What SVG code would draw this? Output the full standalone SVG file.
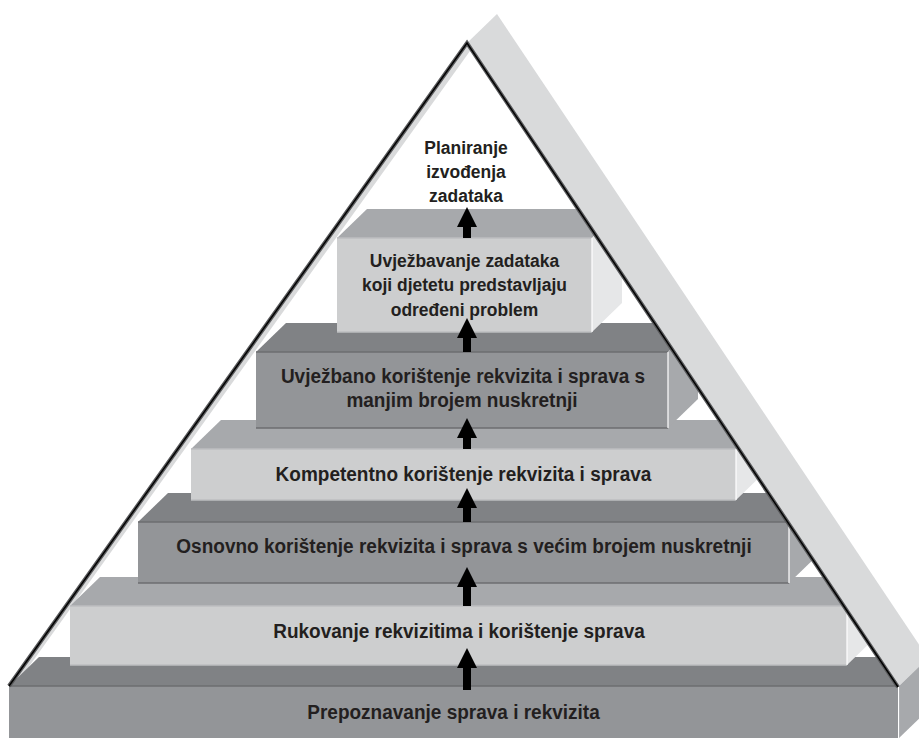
<svg xmlns="http://www.w3.org/2000/svg" width="919" height="738" viewBox="0 0 919 738">
<defs>
<style>
.txt{font-family:"Liberation Sans",Arial,sans-serif;font-weight:bold;fill:#231f20;text-anchor:middle}
.t19{font-size:21px}
.t17{font-size:19px}
.dtop{fill:#808285}
.dfront{fill:#939598}
.dside{fill:#a7a9ac}
.ltop{fill:#a7a9ac}
.lfront{fill:#cdcecf}
.lside{fill:#e6e7e8}
.dedge{stroke:#6d6e71;stroke-width:1.5}
.ledge{stroke:#bcbec0;stroke-width:1.5}
.redge{stroke:#ffffff;stroke-width:1.2}
.arrow{fill:#000000}
</style>
<clipPath id="tri">
<polygon points="467,43 898,687 898,739 9,739 9,686"/>
</clipPath>
</defs>
<rect width="919" height="738" fill="#ffffff"/>
<g id="frame-back">
<polygon points="467,43 497,14 928,658 898,687" fill="#d9dadb"/>
<polygon points="467,44 470,51 15,686 9,686" fill="#d9dadb"/>
<polygon points="898,687 928,658 928,710 898,739" fill="#a7a9ac"/>
<line x1="898.5" y1="687" x2="898.5" y2="739" stroke="#ffffff" stroke-width="1.2"/>
</g>
<g clip-path="url(#tri)">
<g id="level1">
<polygon class="dtop" points="9,686 898,686 928,657 39,657"/>
<rect class="dfront" x="9" y="686" width="889" height="53"/>
<line class="dedge" x1="9" y1="686" x2="898" y2="686"/>
<text class="txt t19" transform="translate(453.5,719) scale(0.905,1)">Prepoznavanje sprava i rekvizita</text>
</g>
<g id="level2">
<polygon class="ltop" points="70,606 847,606 877,577 100,577"/>
<polygon class="lside" points="847,606 877,577 877,636 847,665"/>
<rect class="lfront" x="70" y="606" width="777" height="59"/>
<line class="ledge" x1="70" y1="606" x2="847" y2="606"/>
<line class="ledge" x1="70" y1="665" x2="847" y2="665"/>
<line class="redge" x1="847" y1="606" x2="847" y2="665"/>
<text class="txt t19" transform="translate(459,638) scale(0.905,1)">Rukovanje rekvizitima i korištenje sprava</text>
</g>
<g id="level3">
<polygon class="dtop" points="138,522 789,522 819,493 168,493"/>
<polygon class="dside" points="789,522 819,493 819,554 789,583"/>
<rect class="dfront" x="138" y="522" width="651" height="61"/>
<line class="dedge" x1="138" y1="522" x2="789" y2="522"/>
<line class="dedge" x1="138" y1="583" x2="789" y2="583"/>
<line class="redge" x1="789" y1="522" x2="789" y2="583"/>
<text class="txt t19" transform="translate(464,553) scale(0.905,1)">Osnovno korištenje rekvizita i sprava s većim brojem nuskretnji</text>
</g>
<g id="level4">
<polygon class="ltop" points="191,449 736,449 766,420 221,420"/>
<polygon class="lside" points="736,449 766,420 766,471 736,500"/>
<rect class="lfront" x="191" y="449" width="545" height="51"/>
<line class="ledge" x1="191" y1="449" x2="736" y2="449"/>
<line class="ledge" x1="191" y1="500" x2="736" y2="500"/>
<line class="redge" x1="736" y1="449" x2="736" y2="500"/>
<text class="txt t19" transform="translate(463.5,481) scale(0.905,1)">Kompetentno korištenje rekvizita i sprava</text>
</g>
<g id="level5">
<polygon class="dtop" points="256,352 668,352 698,323 286,323"/>
<polygon class="dside" points="668,352 698,323 698,399 668,428"/>
<rect class="dfront" x="256" y="352" width="412" height="76"/>
<line class="dedge" x1="256" y1="352" x2="668" y2="352"/>
<line class="dedge" x1="256" y1="428" x2="668" y2="428"/>
<line class="redge" x1="668" y1="352" x2="668" y2="428"/>
<text class="txt t19" transform="translate(463,383) scale(0.905,1)">Uvježbano korištenje rekvizita i sprava s</text>
<text class="txt t19" transform="translate(462,407) scale(0.905,1)">manjim brojem nuskretnji</text>
</g>
<g id="level6">
<polygon class="ltop" points="337,238 592,238 622,209 367,209"/>
<polygon class="lside" points="592,238 622,209 622,303 592,332"/>
<rect class="lfront" x="337" y="238" width="255" height="94"/>
<line class="ledge" x1="337" y1="238" x2="592" y2="238"/>
<line class="ledge" x1="337" y1="332" x2="592" y2="332"/>
<line class="redge" x1="592" y1="238" x2="592" y2="332"/>
<text class="txt t17" transform="translate(464.5,267) scale(0.92,1)">Uvježbavanje zadataka</text>
<text class="txt t17" transform="translate(464.5,291) scale(0.92,1)">koji djetetu predstavljaju</text>
<text class="txt t17" transform="translate(464.5,316) scale(0.92,1)">određeni problem</text>
</g>
</g>
<g id="frame-lines" fill="none" stroke-linejoin="miter">
<polyline points="9,686 467,43 898,687" stroke="#58595b" stroke-width="4"/>
<polyline points="9,686 467,43 898,687" stroke="#000000" stroke-width="1.4"/>
</g>
<g id="top">
<text class="txt t17" transform="translate(466,154) scale(0.92,1)">Planiranje</text>
<text class="txt t17" transform="translate(466,178) scale(0.92,1)">izvođenja</text>
<text class="txt t17" transform="translate(466,202) scale(0.92,1)">zadataka</text>
</g>
<g id="connectors">
<polygon class="arrow" points="467,207 477,227 471,227 471,238 463,238 463,227 457,227"/>
<polygon class="arrow" points="467,318 477,338 471,338 471,352 463,352 463,338 457,338"/>
<polygon class="arrow" points="467,418 477,438 471,438 471,449 463,449 463,438 457,438"/>
<polygon class="arrow" points="467,488 477,508 471,508 471,522 463,522 463,508 457,508"/>
<polygon class="arrow" points="467,567 477,587 471,587 471,606 463,606 463,587 457,587"/>
<polygon class="arrow" points="467,648 477,668 471,668 471,690 463,690 463,668 457,668"/>
</g>
</svg>
